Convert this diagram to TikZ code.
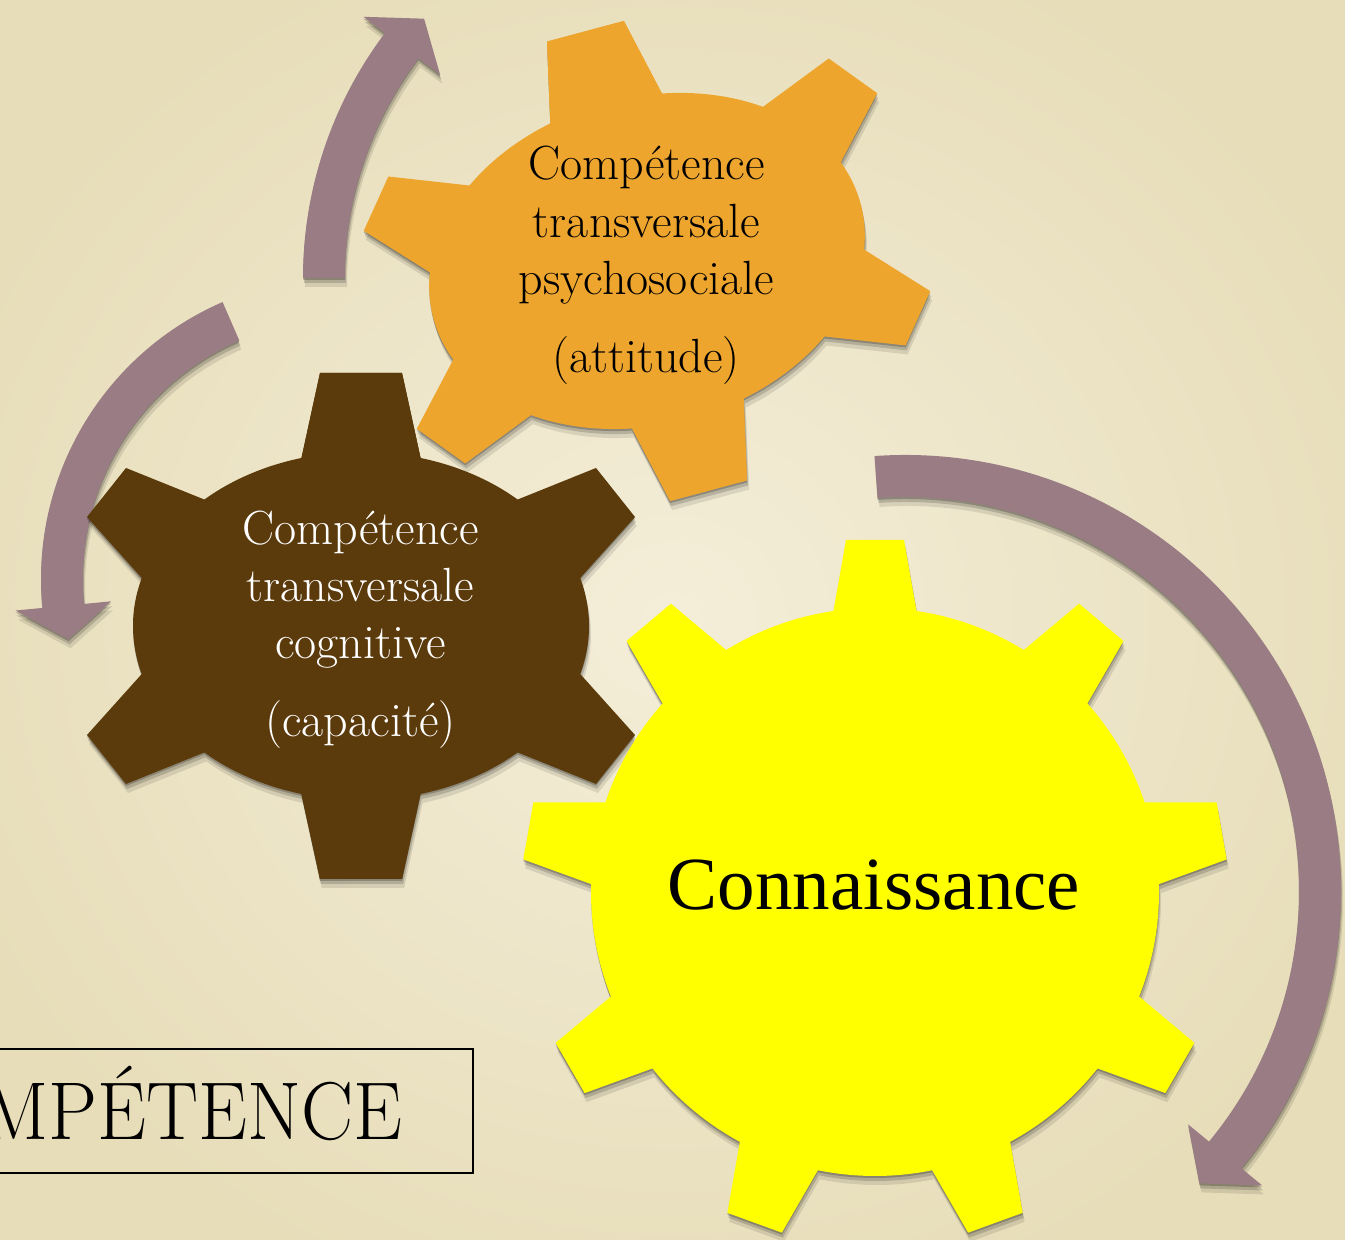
\documentclass[tikz,border=0pt]{standalone}
\usepackage{fontspec}
\newfontfamily\timesf{Liberation Serif}
\definecolor{bgin}{HTML}{F4EED9}
\definecolor{bgout}{HTML}{E7DDB9}
\definecolor{orangec}{HTML}{EDA52E}
\definecolor{brownc}{HTML}{5B3A0B}
\definecolor{yellowc}{HTML}{FFFF00}
\definecolor{arrowc}{HTML}{9A7C84}
% six-tooth gear (stretched), centred at origin
\newcommand{\gearsix}[1]{%
  \fill[#1] (0,0) ellipse [x radius=228, y radius=174];
  \foreach \sx in {1,-1}{\foreach \sy in {1,-1}{
    \fill[#1, xscale=\sx, yscale=\sy] (127,114.5) -- (235,158) -- (274,109) -- (194.5,20.5) -- cycle;
    \fill[#1, yscale=\sy] (-70,120) -- (-41,253) -- (41,253) -- (70,120) -- cycle;
  }}%
}
% nine-tooth gear, centred at origin
\newcommand{\gearnine}[1]{%
  \fill[#1] (0,0) circle [radius=284];
  \foreach \a in {90,50,10,-30,-70,-110,-150,170,130}{
    \fill[#1, rotate=\a] (220,-52.3) -- (352,-29) -- (352,29) -- (220,52.3) -- cycle;
  }%
}
% curved block arrow: #1 fill, #2 R, #3 start angle, #4 head-base angle, #5 tip angle
\newcommand{\curvarrow}[5]{%
  \fill[#1] (#3:#2+21) arc [start angle=#3, end angle=#4, radius=#2+21]
     -- (#4:#2+48) -- (#5:#2) -- (#4:#2-48) -- (#4:#2-21)
     arc [start angle=#4, end angle=#3, radius=#2-21] -- cycle;%
}
\newcommand{\softshadow}[1]{%
  \begin{scope}[shift={(0,-2)}, transparency group, opacity=0.22] #1 \end{scope}
  \begin{scope}[shift={(1,-5)}, transparency group, opacity=0.16] #1 \end{scope}
  \begin{scope}[shift={(2,-9)}, transparency group, opacity=0.10] #1 \end{scope}%
}
\tikzset{
  gtext/.style={inner sep=0pt, anchor=base, font=\fontsize{24}{28}\selectfont},
}
\begin{document}
\begin{tikzpicture}[x=0.5pt, y=0.5pt]
\useasboundingbox (0,0) rectangle (1345,1240);
\clip (0,0) rectangle (1345,1240);
\shade[inner color=bgin, outer color=bgout] (-100,-100) rectangle (1445,1340);

% arrows
\softshadow{\begin{scope}[shift={(710,962)}]\curvarrow{black}{386}{180}{143}{137.8}\end{scope}}
\begin{scope}[shift={(710,962)}]\curvarrow{arrowc}{386}{180}{143}{137.8}\end{scope}
\softshadow{\begin{scope}[shift={(343,661)}]\curvarrow{black}{281}{113.5}{185.5}{192.4}\end{scope}}
\begin{scope}[shift={(343,661)}]\curvarrow{arrowc}{281}{113.5}{185.5}{192.4}\end{scope}
\softshadow{\begin{scope}[shift={(905,349)}]\curvarrow{black}{415}{94}{-39.5}{-44.8}\end{scope}}
\begin{scope}[shift={(905,349)}]\curvarrow{arrowc}{415}{94}{-39.5}{-44.8}\end{scope}

% brown gear
\softshadow{\begin{scope}[shift={(361,614)}]\gearsix{black}\end{scope}}
\begin{scope}[shift={(361,614)}]\gearsix{brownc}\end{scope}
% orange gear
\softshadow{\begin{scope}[shift={(647,979)}, rotate=15, xscale=0.97, yscale=0.94]\gearsix{black}\end{scope}}
\begin{scope}[shift={(647,979)}, rotate=15, xscale=0.97, yscale=0.94]\gearsix{orangec}\end{scope}
% yellow gear
\softshadow{\begin{scope}[shift={(875,348)}]\gearnine{black}\end{scope}}
\begin{scope}[shift={(875,348)}]\gearnine{yellowc}\end{scope}

% texts
\node[gtext, text=black] (o1) at (646.5,1060) {Compétence};
\node[gtext, text=black] (o2) at (646.5,1002) {transversale};
\node[gtext, text=black] (o3) at (646.5,945) {psychosociale};
\node[gtext, text=black] (o4) at (646,867) {(attitude)};

\node[gtext, text=white] (b1) at (360.5,695) {Compétence};
\node[gtext, text=white] (b2) at (360.5,638) {transversale};
\node[gtext, text=white] (b3) at (360.5,581) {cognitive};
\node[gtext, text=white] (b4) at (360.5,503) {(capacité)};

\node[inner sep=0pt, anchor=base, font=\timesf\fontsize{37.5}{40}\selectfont] (k) at (874,330) {Connaissance};

% title box
\draw[line width=0.75pt, black] (-20,67) rectangle (473,191);
\node[inner sep=0pt, anchor=base east, font=\fontsize{41}{45}\selectfont] (c) at (403,100) {\scalebox{0.95}[1]{MPÉTENCE}};
\end{tikzpicture}
\end{document}
